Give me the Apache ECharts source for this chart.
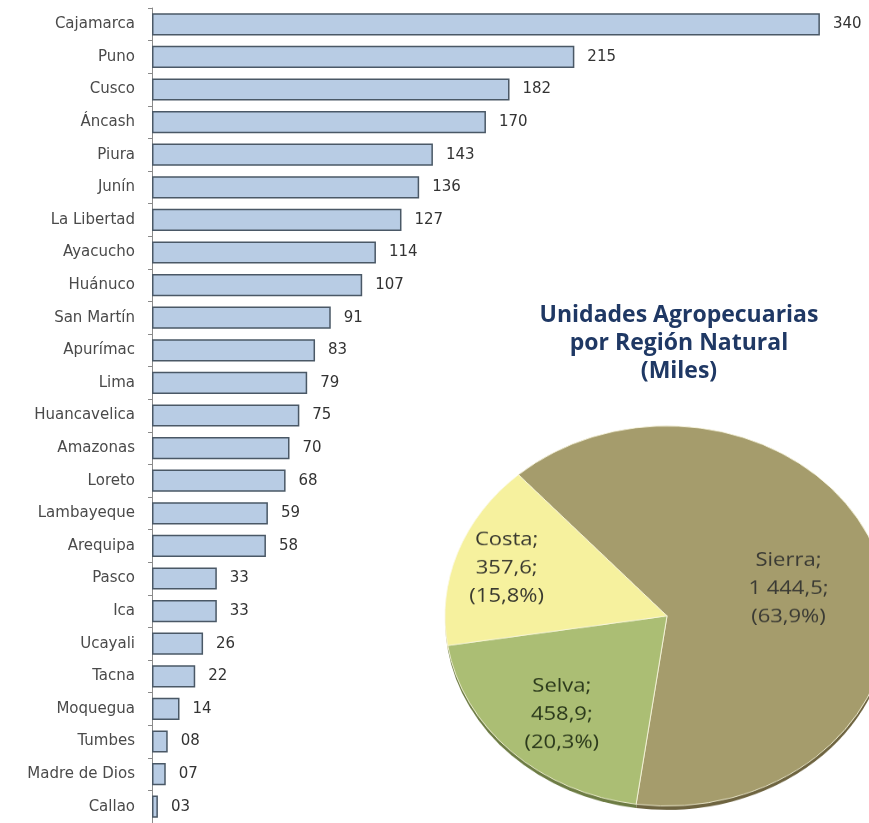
<!DOCTYPE html>
<html>
<head>
<meta charset="utf-8">
<script src="https://cdn.jsdelivr.net/npm/echarts@6/dist/echarts.min.js"></script>
<style>
  html, body { margin: 0; padding: 0; background: #ffffff; }
  #wrap { position: relative; width: 869px; height: 823px; overflow: hidden; }
  #bars { position: absolute; left: 0; top: 0; width: 869px; height: 823px; }
  #pie { position: absolute; left: 0; top: 0; width: 869px; height: 962px;
         transform-origin: 0 0; transform: scaleY(0.856); pointer-events: none; }
</style>
</head>
<body>
<div id="wrap">
  <div id="bars"></div>
  <div id="pie"></div>
</div>
<script>
// ---- data ----
const regions = ['Cajamarca','Puno','Cusco','Áncash','Piura','Junín','La Libertad','Ayacucho','Huánuco','San Martín','Apurímac','Lima','Huancavelica','Amazonas','Loreto','Lambayeque','Arequipa','Pasco','Ica','Ucayali','Tacna','Moquegua','Tumbes','Madre de Dios','Callao'];
const unidades = [340,215,182,170,143,136,127,114,107,91,83,79,75,70,68,59,58,33,33,26,22,14,8,7,3];

const zonas = ['Sierra','Selva','Costa'];
const zonaValores = [1444.5, 458.9, 357.6];
const zonaColores = ['#a59c6c','#abbe74','#f6f19e'];
const zonaBordes = ['#6e6440','#6d7c44','#b8b070'];
const zonaTexto = ['#3a3a34','#2c3a1c','#3a3a30'];

const titulo = 'Unidades Agropecuarias\npor Región Natural\n(Miles)';

// ---- helpers ----
function fmtNum(v) {
  const parts = v.toFixed(1).split('.');
  const ent = parts[0].replace(/\B(?=(\d{3})+(?!\d))/g, ' ');
  return ent + ',' + parts[1];
}

// ---- bar chart ----
const barChart = echarts.init(document.getElementById('bars'), null, {renderer: 'canvas'});
barChart.setOption({
  animation: false,
  backgroundColor: '#ffffff',
  title: {
    text: titulo,
    left: 674,
    top: 296,
    textAlign: 'center',
    textStyle: {
      fontFamily: 'Open Sans',
      fontWeight: 'bold',
      fontSize: 23,
      lineHeight: 28,
      color: '#1f3864'
    }
  },
  grid: { left: 152, right: 0, top: 8, bottom: 0, containLabel: false },
  xAxis: { type: 'value', min: 0, max: 365, show: false },
  yAxis: {
    type: 'category',
    inverse: true,
    data: regions,
    axisLine: { show: true, lineStyle: { color: '#8a8a8a', width: 1 } },
    axisTick: { show: true, length: 4, lineStyle: { color: '#8a8a8a' } },
    axisLabel: {
      margin: 17,
      fontFamily: 'DejaVu Sans',
      fontSize: 15,
      color: '#4a4a4a'
    }
  },
  series: [{
    type: 'bar',
    data: unidades,
    barCategoryGap: '32%',
    itemStyle: { color: '#b8cce4', borderColor: '#4a5866', borderWidth: 1.5 },
    label: {
      show: true,
      position: 'right',
      distance: 13,
      fontFamily: 'DejaVu Sans',
      fontSize: 15,
      color: '#333333',
      formatter: p => String(p.value).padStart(2, '0')
    }
  }]
});

// ---- pie chart (tilted via vertical scale of its container) ----
const pieChart = echarts.init(document.getElementById('pie'), null, {renderer: 'canvas'});
const pieData = zonas.map((n, i) => ({ name: n, value: zonaValores[i], itemStyle: { color: zonaColores[i] } }));
const edgeData = zonas.map((n, i) => ({ name: n, value: zonaValores[i], itemStyle: { color: zonaBordes[i] } }));
const labelData = zonas.map((n, i) => ({
  name: n, value: zonaValores[i],
  itemStyle: { color: 'rgba(0,0,0,0)' },
  label: { color: zonaTexto[i] }
}));
const labelShift = { Sierra: [-22, 12], Selva: [0, 8], Costa: [-19, -6] };
const pieCenter = [667, 719.6];
pieChart.setOption({
  animation: false,
  backgroundColor: 'transparent',
  series: [
    {
      type: 'pie', silent: true, startAngle: 132, clockwise: true,
      center: [pieCenter[0], pieCenter[1] + 4.5], radius: [0, 222],
      data: edgeData, label: { show: false }, labelLine: { show: false },
      itemStyle: { borderWidth: 0 }
    },
    {
      type: 'pie', silent: true, startAngle: 132, clockwise: true,
      center: pieCenter, radius: [0, 222],
      data: pieData, label: { show: false }, labelLine: { show: false },
      itemStyle: { borderColor: 'rgba(250,248,225,0.85)', borderWidth: 1 }
    },
    {
      type: 'pie', silent: true, startAngle: 132, clockwise: true,
      center: pieCenter, radius: [72, 222],
      data: labelData, labelLine: { show: false },
      labelLayout: p => {
        const s = labelShift[zonas[p.dataIndex]];
        return { dx: s[0], dy: s[1] };
      },
      label: {
        show: true,
        position: 'inside',
        fontFamily: 'Open Sans',
        fontSize: 22,
        lineHeight: 33,
        align: 'center',
        formatter: p => p.name + ';\n' + fmtNum(p.value) + ';\n(' + p.percent.toFixed(1).replace('.', ',') + '%)'
      }
    }
  ]
});
</script>
</body>
</html>
